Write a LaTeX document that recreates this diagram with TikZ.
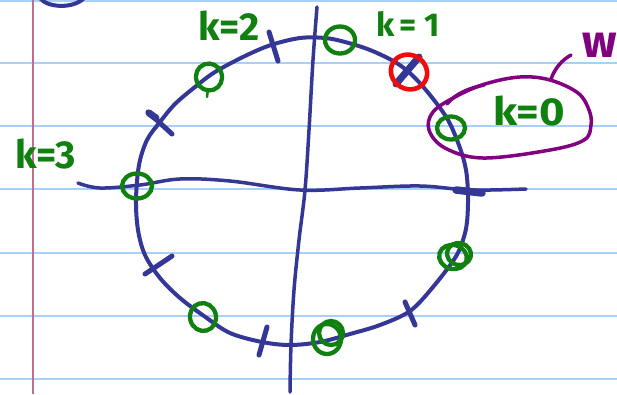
\documentclass[tikz,border=0pt]{standalone}
\usepackage{fontspec}
\setmainfont{Fira Sans}
\usetikzlibrary{shapes.geometric}
\definecolor{inkblue}{RGB}{52,55,150}
\definecolor{inkgreen}{RGB}{16,128,16}
\definecolor{inkred}{RGB}{240,12,12}
\definecolor{inkpurple}{RGB}{128,0,128}
\definecolor{rulecol}{RGB}{168,208,252}
\definecolor{margincol}{RGB}{192,110,140}
\tikzset{
  rule/.style={draw=rulecol, line width=2pt},
  marginline/.style={draw=margincol, line width=1.6pt},
  bluepen/.style={draw=inkblue, line width=4pt, line cap=round, line join=round},
  tickpen/.style={draw=inkblue, line width=5pt, line cap=round},
  greenring/.style={draw=inkgreen, line width=4.3pt, ellipse, inner sep=0pt, fill=none},
  redring/.style={draw=inkred, line width=4.6pt, ellipse, inner sep=0pt},
  purplepen/.style={draw=inkpurple, line width=3.5pt, line cap=round, line join=round},
  glabel/.style={text=inkgreen, inner sep=0pt, font=\fontsize{39}{39}\selectfont\bfseries},
  plabel/.style={text=inkpurple, inner sep=0pt, font=\fontsize{46}{46}\selectfont\bfseries},
}
\begin{document}
\begin{tikzpicture}[x=1pt,y=-1pt]
\useasboundingbox (0,0) rectangle (617,394);
\fill[white] (0,0) rectangle (617,394);
% ruled paper
\foreach \yy in {1,63,126,189,253,316,379} \draw[rule] (0,\yy) -- (617,\yy);
\draw[marginline] (33,0) -- (33,394);
% partial arc top left
\draw[bluepen] (40,-2) .. controls (47,8) and (74,9) .. (84,-2);
% axes
\draw[bluepen, line width=3.5pt] plot[smooth, tension=0.6] coordinates {(78,183) (100,188) (140,185) (180,179) (230,181) (300,190) (360,188) (420,186) (470,190) (526,189)};
\draw[bluepen, line width=3.5pt] plot[smooth, tension=0.6] coordinates {(317,7) (313,60) (309,130) (305,190) (299,240) (294,290) (291,345) (290,392)};
% the circle
\draw[bluepen] plot[smooth cycle, tension=0.55] coordinates {
 (136,200) (139,165) (147,140) (160,122) (175,104) (195,87) (215,72) (245,56) (271,45)
 (300,38) (325,38) (345,42) (370,50) (395,62) (412,75) (430,95) (448,120) (460,148)
 (466,170) (468,195) (467,222) (463,240) (455,258) (433,287) (410,311) (380,325)
 (350,334) (320,342) (290,345) (262,342) (230,333) (204,316) (180,298) (160,278)
 (145,255) (138,230)};
% tick marks
\draw[tickpen] (148,112) -- (172,134);
\draw[tickpen, line width=7pt] (149,113) -- (156,118);
\draw[tickpen] (269,32) -- (278,61);
\draw[tickpen, line width=7pt] (396,84) -- (419,57);
\draw[tickpen, line width=7.5pt] (456,190) -- (482,193);
\draw[tickpen] (405,302) -- (415,325);
\draw[tickpen] (267,327) -- (259,355);
\draw[tickpen] (145,274) -- (172,256);
% green rings
\node[greenring, minimum width=30pt, minimum height=25pt] (g3) at (137,186) {};
\node[greenring, minimum width=26pt, minimum height=27pt, rotate=20] (g2) at (209,77) {};
\node[greenring, minimum width=30pt, minimum height=27pt] (g1) at (340,40) {};
\node[greenring, minimum width=28pt, minimum height=23pt] (g0) at (451,128) {};
\node[greenring, minimum width=28pt, minimum height=24pt, rotate=-15] (g4) at (453,257) {};
\node[greenring, minimum width=24pt, minimum height=22pt, rotate=-15] (g4b) at (459,254) {};
\node[greenring, minimum width=28pt, minimum height=30pt] (g5) at (327,339) {};
\node[greenring, minimum width=24pt, minimum height=24pt] (g5b) at (331,333) {};
\node[greenring, minimum width=26pt, minimum height=28pt, rotate=15] (g6) at (203,317) {};
\draw[draw=inkgreen, line width=2.5pt, line cap=round] (208,89) -- (207,97);
% red ring
\node[redring, minimum width=37pt, minimum height=34pt, rotate=-30] (r1) at (409,72) {};
% labels
\node[glabel] (k3) at (46,154) {k=3};
\node[glabel] (k2) at (229,26) {k=2};
\node[glabel, font=\fontsize{33}{33}\selectfont\bfseries] (k1) at (408,24) {k\hspace{5pt}=\hspace{8pt}1};
\node[glabel] (k0) at (529,111) {\scalebox{1.12}[1]{k=0}};
\node[plabel] (w) at (600,45) {w};
% purple loop around k=0
\draw[purplepen] plot[smooth cycle, tension=0.6] coordinates {
 (520,77) (550,80) (578,93) (589,110) (591,125) (584,140) (550,150) (483,158)
 (445,148) (429,130) (433,112) (455,97) (485,84)};
\draw[purplepen] (447,104) .. controls (456,93) and (470,88) .. (484,85);
\coordinate (tailstart) at (551,79);
\draw[purplepen] (tailstart) .. controls (555,68) and (562,60) .. (571,55);
\end{tikzpicture}
\end{document}
